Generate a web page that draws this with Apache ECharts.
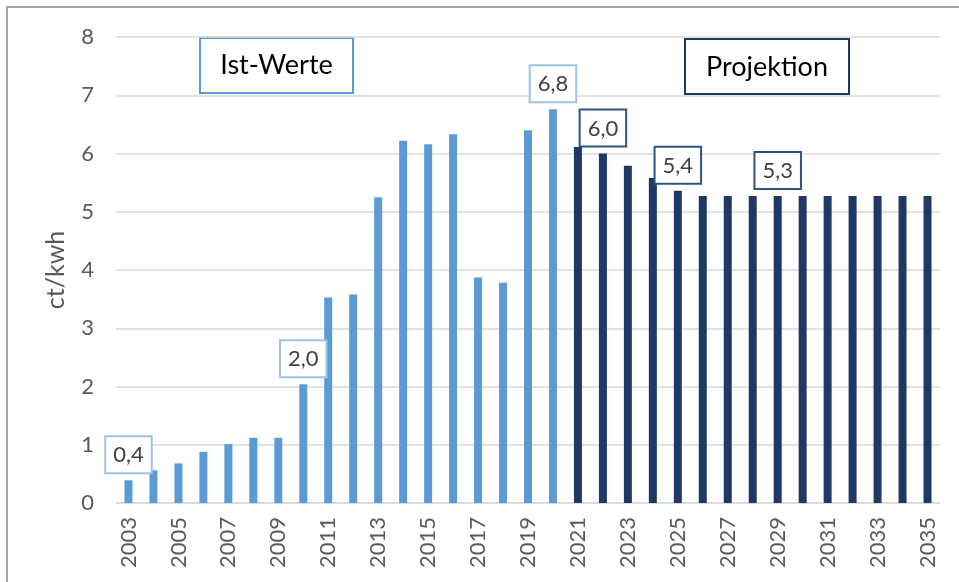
<!DOCTYPE html>
<html>
<head>
<meta charset="utf-8">
<script src="https://cdn.jsdelivr.net/npm/echarts@6/dist/echarts.min.js"></script>
<style>
  html, body { margin: 0; padding: 0; background: #fff; }
  #chart { width: 959px; height: 582px; }
</style>
</head>
<body>
<div id="chart"></div>
<script>
// Jahre und Werte (ct/kwh)
var jahre = ["2003","2004","2005","2006","2007","2008","2009","2010","2011","2012",
  "2013","2014","2015","2016","2017","2018","2019","2020","2021","2022",
  "2023","2024","2025","2026","2027","2028","2029","2030","2031","2032",
  "2033","2034","2035"];
var werte = [0.39, 0.56, 0.68, 0.88, 1.01, 1.12, 1.12, 2.04, 3.53, 3.58,
  5.25, 6.22, 6.16, 6.33, 3.87, 3.78, 6.40, 6.76, 6.11, 6.00,
  5.79, 5.58, 5.36, 5.27, 5.27, 5.27, 5.27, 5.27, 5.27, 5.27,
  5.27, 5.27, 5.27];
var letztesIstJahr = "2020";
var beschriftet = ["2003", "2010", "2020", "2022", "2025", "2029"];

var hell = "#5b9bd5";
var dunkel = "#203864";
var font = "Lato";

function istWert(jahr) { return Number(jahr) <= Number(letztesIstJahr); }

var daten = werte.map(function (v, i) {
  var jahr = jahre[i];
  var item = { value: v, itemStyle: { color: istWert(jahr) ? hell : dunkel } };
  if (beschriftet.indexOf(jahr) >= 0) {
    item.label = {
      show: true,
      position: "top",
      distance: 8,
      formatter: function (p) { return p.value.toFixed(1).replace(".", ","); },
      backgroundColor: "#fff",
      borderColor: istWert(jahr) ? "#9dc3e6" : "#2f5281",
      borderWidth: 2,
      padding: [5, 7, 4, 7],
      lineHeight: 26,
      fontFamily: font,
      fontSize: 22,
      color: "#404040",
    };
  }
  return item;
});

var chart = echarts.init(document.getElementById("chart"));
chart.setOption({
  animation: false,
  grid: { left: 116, right: 19, top: 37, bottom: 79 },
  xAxis: {
    type: "category",
    data: jahre,
    axisTick: { show: false },
    axisLine: { lineStyle: { color: "#d9d9d9", width: 1.5 } },
    axisLabel: {
      interval: 1,
      rotate: 90,
      margin: 14,
      fontFamily: font,
      fontSize: 22,
      color: "#595959",
    },
  },
  yAxis: {
    type: "value",
    min: 0,
    max: 8,
    interval: 1,
    name: "ct/kwh",
    nameLocation: "middle",
    nameGap: 48,
    nameTextStyle: { fontFamily: font, fontSize: 25, color: "#595959" },
    axisLabel: { margin: 22, fontFamily: font, fontSize: 22, color: "#595959" },
    splitLine: { lineStyle: { color: "#d9d9d9", width: 1.5 } },
  },
  series: [
    {
      type: "bar",
      barWidth: 8,
      data: daten,
      label: { show: false },
    },
  ],
  graphic: [
    {
      type: "rect",
      shape: { x: 7, y: 7, width: 975, height: 600 },
      style: { fill: "none", stroke: "#a6a6a6", lineWidth: 2 },
      silent: true,
    },
    {
      type: "rect",
      shape: { x: 200, y: 38, width: 153, height: 55 },
      style: { fill: "#fff", stroke: hell, lineWidth: 2 },
    },
    {
      type: "text",
      x: 276.5,
      y: 65.5,
      style: {
        text: "Ist-Werte",
        fontFamily: font,
        fontSize: 27,
        fill: "#000",
        align: "center",
        verticalAlign: "middle",
      },
    },
    {
      type: "rect",
      shape: { x: 685, y: 39, width: 164, height: 55 },
      style: { fill: "#fff", stroke: dunkel, lineWidth: 2 },
    },
    {
      type: "text",
      x: 767,
      y: 67,
      style: {
        text: "Projektion",
        fontFamily: font,
        fontSize: 27,
        fill: "#000",
        align: "center",
        verticalAlign: "middle",
      },
    },
  ],
});
</script>
</body>
</html>
